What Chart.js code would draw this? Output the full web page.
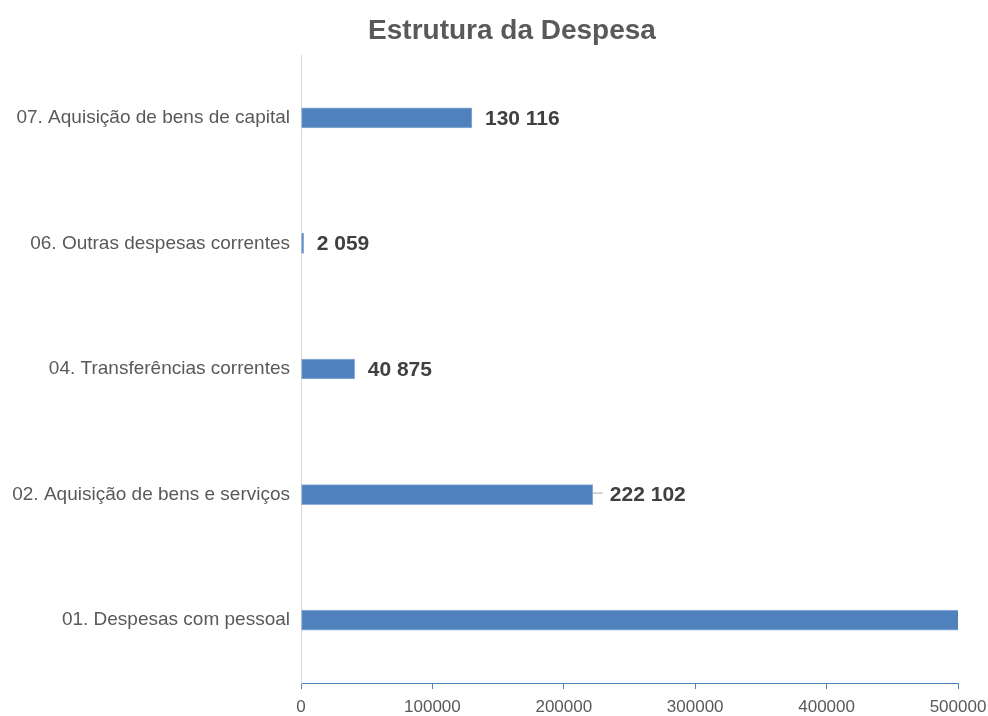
<!DOCTYPE html>
<html>
<head>
<meta charset="utf-8">
<script src="https://cdn.jsdelivr.net/npm/chart.js@4/dist/chart.umd.min.js"></script>
<style>
  html, body { margin: 0; padding: 0; background: #fff; }
  #wrap { width: 988px; height: 716px; }
</style>
</head>
<body>
<div id="wrap"><canvas id="despesa"></canvas></div>
<script>
const categories = [
    "01. Despesas com pessoal",
    "02. Aquisição de bens e serviços",
    "04. Transferências correntes",
    "06. Outras despesas correntes",
    "07. Aquisição de bens de capital"
];
// first bar runs past the axis end, its label is not shown
const values = [540000, 222102, 40875, 2059, 130116];
const xTicks = [0, 100000, 200000, 300000, 400000, 500000];
const leader = [false, true, false, false, false];

const barBlue = "#4f81bd";
const grey = "#595959";
const fontFamily = "'Liberation Sans', Arial, sans-serif";

function spaced(n) {
    return String(n).replace(/\B(?=(\d{3})+(?!\d))/g, " ");
}

// title and value labels
const extras = {
    id: "extras",
    afterDraw(chart) {
        const ctx = chart.ctx;
        const xs = chart.scales.x;
        const meta = chart.getDatasetMeta(0);
        ctx.save();
        ctx.fillStyle = grey;
        ctx.font = "bold 28px " + fontFamily;
        ctx.textAlign = "center";
        ctx.textBaseline = "middle";
        ctx.fillText("Estrutura da Despesa", 512, 31);

        ctx.font = "bold 21px " + fontFamily;
        ctx.textAlign = "left";
        ctx.fillStyle = "#404040";
        meta.data.forEach((bar, i) => {
            if (values[i] > xs.max) return;
            let x = bar.x + 13;
            if (leader[i]) {
                ctx.strokeStyle = "#a6a6a6";
                ctx.lineWidth = 1;
                ctx.beginPath();
                ctx.moveTo(bar.x, bar.y - 1.5);
                ctx.lineTo(bar.x + 10, bar.y - 1.5);
                ctx.stroke();
                x = bar.x + 17;
            }
            ctx.fillText(spaced(values[i]), x, bar.y + 1);
        });
        ctx.restore();
    }
};

new Chart(document.getElementById("despesa"), {
    type: "bar",
    data: {
        labels: categories,
        datasets: [{
            data: values,
            backgroundColor: barBlue,
            borderColor: "#8eb0da",
            borderWidth: 1,
            borderSkipped: false,
            barThickness: 20
        }]
    },
    options: {
        indexAxis: "y",
        responsive: true,
        maintainAspectRatio: false,
        animation: false,
        layout: { padding: { top: 55, right: 30, left: 0, bottom: 0 } },
        plugins: {
            legend: { display: false },
            tooltip: { enabled: false }
        },
        scales: {
            x: {
                min: 0,
                max: 500000,
                afterBuildTicks: (s) => { s.ticks = xTicks.map(v => ({ value: v })); },
                afterFit: (s) => { s.height = 33; s.paddingLeft = 0; s.paddingRight = 0; },
                grid: {
                    drawOnChartArea: false,
                    drawTicks: true,
                    tickLength: 6,
                    color: barBlue
                },
                border: { display: true, color: barBlue, width: 1 },
                ticks: {
                    padding: 8,
                    maxRotation: 0,
                    color: grey,
                    font: { family: fontFamily, size: 17 },
                    callback: (v) => String(v)
                }
            },
            y: {
                reverse: true,
                afterFit: (s) => { s.width = 301; },
                grid: { display: false, drawTicks: false },
                border: { display: true, color: "#d9d9d9", width: 1 },
                ticks: {
                    padding: 11,
                    color: grey,
                    font: { family: fontFamily, size: 19 }
                }
            }
        }
    },
    plugins: [extras]
});
</script>
</body>
</html>
